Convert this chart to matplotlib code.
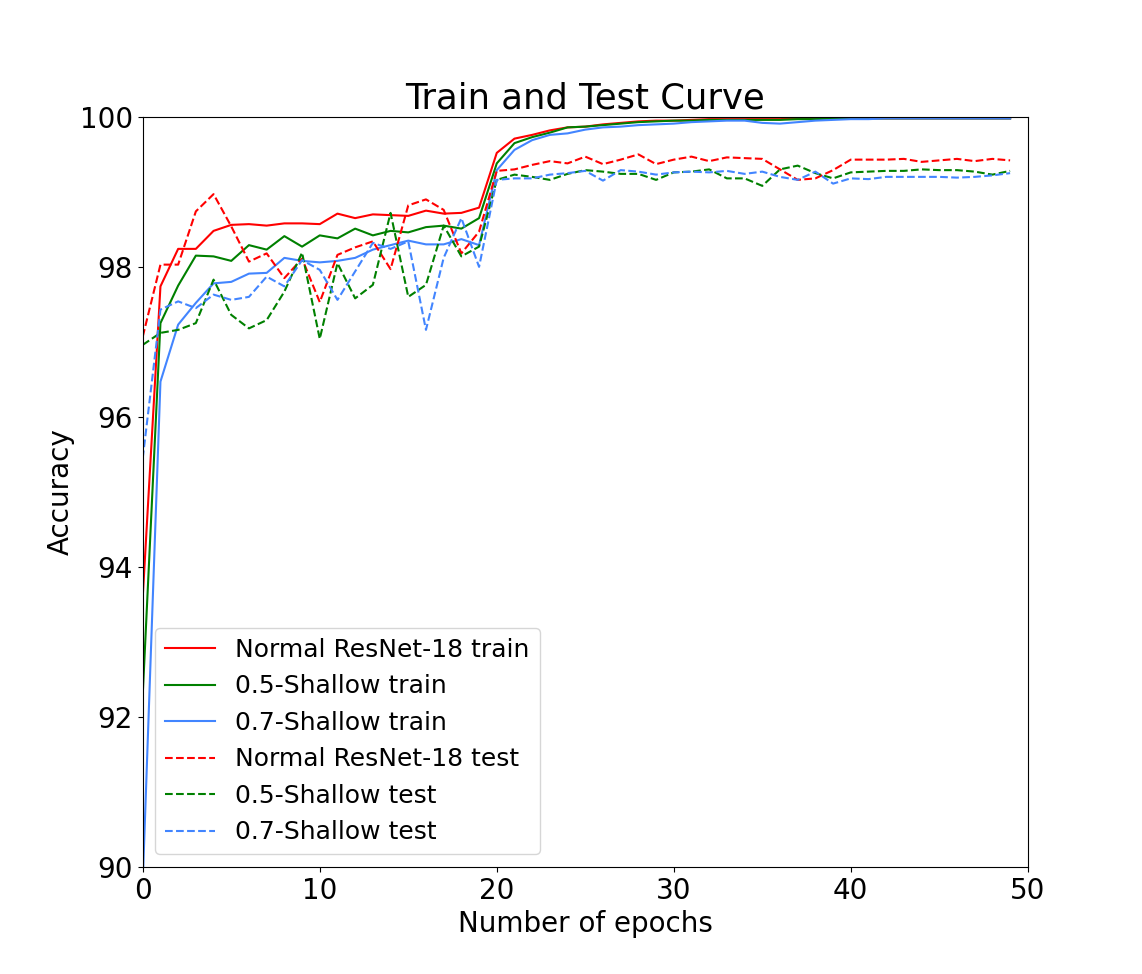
import matplotlib
matplotlib.use("Agg")
import matplotlib.pyplot as plt

epochs = list(range(50))

normal_train = [93.6, 97.74, 98.24, 98.24, 98.48, 98.56, 98.57, 98.55, 98.58, 98.58,
                98.57, 98.71, 98.65, 98.70, 98.69, 98.68, 98.75, 98.71, 98.72, 98.79,
                99.52, 99.71, 99.76, 99.82, 99.86, 99.87, 99.90, 99.92, 99.94, 99.95,
                99.95, 99.96, 99.97, 99.97, 99.97, 99.97, 99.97, 99.98, 99.98, 99.98,
                99.98, 99.98, 99.98, 99.98, 99.98, 99.98, 99.98, 99.98, 99.98, 99.98]
shallow5_train = [92.3, 97.25, 97.75, 98.15, 98.14, 98.08, 98.29, 98.23, 98.41, 98.27,
                  98.42, 98.38, 98.51, 98.42, 98.48, 98.46, 98.53, 98.55, 98.51, 98.65,
                  99.38, 99.65, 99.73, 99.79, 99.86, 99.87, 99.89, 99.91, 99.93, 99.94,
                  99.95, 99.95, 99.96, 99.96, 99.96, 99.96, 99.96, 99.97, 99.97, 99.98,
                  99.98, 99.98, 99.98, 99.98, 99.98, 99.98, 99.98, 99.98, 99.98, 99.98]
shallow7_train = [89.8, 96.47, 97.23, 97.52, 97.78, 97.80, 97.91, 97.92, 98.12, 98.08,
                  98.06, 98.08, 98.12, 98.23, 98.29, 98.35, 98.30, 98.30, 98.37, 98.29,
                  99.29, 99.56, 99.69, 99.76, 99.78, 99.83, 99.86, 99.87, 99.89, 99.90,
                  99.91, 99.93, 99.94, 99.95, 99.95, 99.92, 99.91, 99.93, 99.95, 99.96,
                  99.97, 99.97, 99.98, 99.98, 99.98, 99.98, 99.98, 99.98, 99.98, 99.98]

normal_test = [97.07, 98.03, 98.03, 98.74, 98.97, 98.54, 98.07, 98.18, 97.85, 98.11,
               97.53, 98.16, 98.26, 98.34, 97.97, 98.82, 98.90, 98.76, 98.18, 98.47,
               99.28, 99.30, 99.36, 99.41, 99.38, 99.47, 99.37, 99.43, 99.50, 99.37,
               99.43, 99.47, 99.41, 99.46, 99.45, 99.44, 99.30, 99.16, 99.18, 99.29,
               99.43, 99.43, 99.43, 99.44, 99.40, 99.42, 99.44, 99.41, 99.44, 99.42]
shallow5_test = [96.96, 97.12, 97.16, 97.25, 97.83, 97.36, 97.18, 97.29, 97.67, 98.19,
                 97.04, 98.05, 97.58, 97.76, 98.72, 97.60, 97.76, 98.55, 98.14, 98.27,
                 99.16, 99.23, 99.20, 99.16, 99.24, 99.29, 99.27, 99.24, 99.24, 99.16,
                 99.26, 99.27, 99.30, 99.18, 99.18, 99.08, 99.30, 99.35, 99.25, 99.18,
                 99.26, 99.27, 99.28, 99.28, 99.30, 99.29, 99.29, 99.27, 99.23, 99.28]
shallow7_test = [95.45, 97.43, 97.54, 97.45, 97.63, 97.56, 97.60, 97.87, 97.74, 98.09,
                 97.96, 97.56, 97.94, 98.32, 98.24, 98.34, 97.16, 98.12, 98.65, 98.00,
                 99.16, 99.18, 99.18, 99.23, 99.25, 99.28, 99.15, 99.29, 99.27, 99.23,
                 99.26, 99.27, 99.26, 99.28, 99.24, 99.27, 99.20, 99.16, 99.27, 99.11,
                 99.18, 99.17, 99.20, 99.20, 99.20, 99.20, 99.19, 99.20, 99.22, 99.25]

blue = "#4285ff"

fig = plt.figure(figsize=(11.42, 9.74), dpi=100)
ax = fig.add_subplot(111)

ax.plot(epochs, normal_train, color="red", label="Normal ResNet-18 train")
ax.plot(epochs, shallow5_train, color="green", label="0.5-Shallow train")
ax.plot(epochs, shallow7_train, color=blue, label="0.7-Shallow train")
ax.plot(epochs, normal_test, color="red", linestyle="--", label="Normal ResNet-18 test")
ax.plot(epochs, shallow5_test, color="green", linestyle="--", label="0.5-Shallow test")
ax.plot(epochs, shallow7_test, color=blue, linestyle="--", label="0.7-Shallow test")

ax.set_xlim(0, 50)
ax.set_ylim(90, 100)
ax.tick_params(labelsize=20)
ax.set_xlabel("Number of epochs", fontsize=20)
ax.set_ylabel("Accuracy", fontsize=20)
ax.set_title("Train and Test Curve", fontsize=25.5)
ax.legend(loc="lower left", fontsize=18)

fig.savefig("out.png", dpi=100)
